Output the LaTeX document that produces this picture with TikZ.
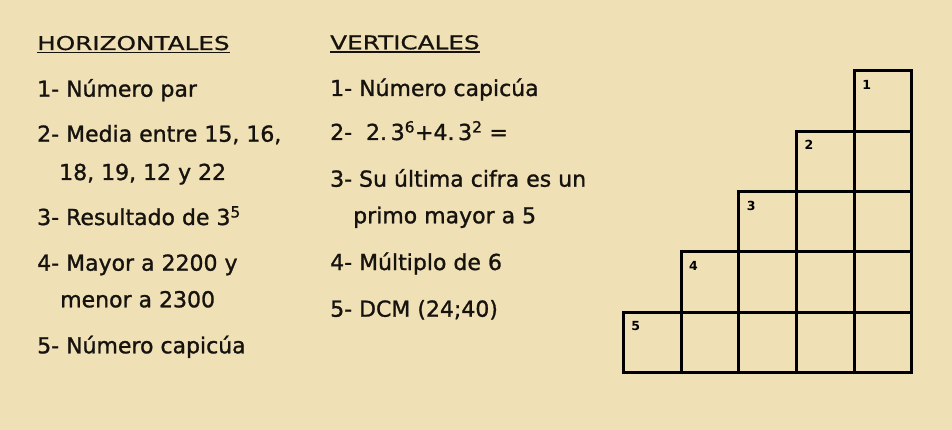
\documentclass[tikz,border=0pt]{standalone}
\usepackage{fontspec}
\usepackage{xcolor}
\setmainfont[FakeBold=1.2]{DejaVu Sans}
\newfontfamily\headfont[FakeStretch=1.3,FakeBold=0.8]{DejaVu Sans}
\newfontfamily\numfont{DejaVu Sans Bold}
\usetikzlibrary{calc,positioning}
\definecolor{parchment}{RGB}{240,224,182}
\definecolor{ink}{RGB}{22,19,15}

\begin{document}
\begin{tikzpicture}[x=1pt,y=-1pt,
  clue/.style={anchor=base west,inner sep=0pt,text=ink,font=\fontsize{22}{26}\selectfont},
  cluetitle/.style={anchor=base west,inner sep=0pt,text=ink,font=\headfont\fontsize{19}{22}\selectfont},
  cellnum/.style={inner sep=0pt,text=black,font=\numfont\fontsize{12.5}{14}\selectfont},
  cellbox/.style={draw=black,line width=3pt}]
  % background
  \fill[parchment] (0,0) rectangle (952,430);
  \useasboundingbox (0,0) rectangle (952,430);

  % Marking column HORIZONTALES
  \node[cluetitle] (horz) at (37,50) {HORIZONTALES};
  \draw[ink,line width=1.6pt] ([yshift=-2.5pt]horz.base west) -- ([yshift=-2.5pt]horz.base east);
  \node[clue] (h1) at (37,96.7) {1- Número par};
  \node[clue] (h2) at (37,141.7) {2- Media entre 15, 16,};
  \node[clue] (h2b) at (59,180) {18, 19, 12 y 22};
  \node[clue] (h3) at (37,225) {3- Resultado de 3\textsuperscript{5}};
  \node[clue] (h4) at (37,270.7) {4- Mayor a 2200 y};
  \node[clue] (h4b) at (60,307.3) {menor a 2300};
  \node[clue] (h5) at (37,353.3) {5- Número capicúa};

  % Marking column VERTICALES
  \node[cluetitle] (vert) at (330,49.3) {VERTICALES};
  \draw[ink,line width=1.6pt] ([yshift=-2.5pt]vert.base west) -- ([yshift=-2.5pt]vert.base east);
  \node[clue] (v1) at (330,96) {1- Número capicúa};
  \node[clue] (v2) at (330,140) {2-\ \ 2.\,3\textsuperscript{6}+4.\,3\textsuperscript{2} =};
  \node[clue] (v3) at (330,186.7) {3- Su última cifra es un};
  \node[clue] (v3b) at (353,223.3) {primo mayor a 5};
  \node[clue] (v4) at (330,270) {4- Múltiplo de 6};
  \node[clue] (v5) at (330,316.7) {5- DCM (24;40)};

  % Drawing staircase grid
  \foreach \r in {1,...,5}{
    \pgfmathtruncatemacro\first{6-\r}
    \foreach \c in {\first,...,5}
      \draw[cellbox] ({623.3+(\c-1)*57.7},{70.7+(\r-1)*60.4}) rectangle ++(57.7,60.4);
    \node[cellnum] (num\r) at ({623.3+(\first-1)*57.7+12.5},{70.7+(\r-1)*60.4+14}) {\r};
  }
\end{tikzpicture}
\end{document}
